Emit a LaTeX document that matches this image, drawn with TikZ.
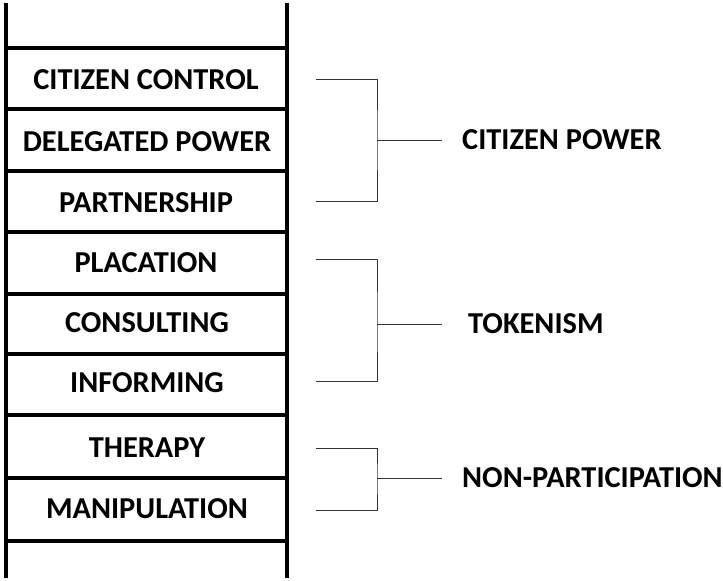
\documentclass[tikz,border=0pt]{standalone}
\usepackage{fontspec}
\setmainfont{Carlito}
\usetikzlibrary{positioning}

\begin{document}
\begin{tikzpicture}[x=1pt,y=-1pt,
  rail/.style={line width=4pt},
  brace/.style={line width=1pt,black!80},
  steptext/.style={font=\fontsize{30.4}{34}\selectfont\bfseries},
  grouptext/.style={steptext,anchor=west,inner xsep=20pt}]
  \useasboundingbox (0,0) rectangle (723,581);
  % ladder
  \draw[rail] (6,3) -- (6,578);
  \draw[rail] (287,3) -- (287,578);
  \foreach \y in {48,109,171,232,294,354,415,478,541}
    \draw[rail] (6,\y) -- (287,\y);
  % rungs, top to bottom
  \node[steptext] (control)  at (146,80)  {CITIZEN CONTROL};
  \node[steptext] (delegate) at (147,142) {DELEGATED POWER};
  \node[steptext] (partner)  at (146,203) {PARTNERSHIP};
  \node[steptext] (placate)  at (146,263) {PLACATION};
  \node[steptext] (consult)  at (147,323) {CONSULTING};
  \node[steptext] (inform)   at (147,383) {INFORMING};
  \node[steptext] (therapy)  at (147,448) {THERAPY};
  \node[steptext] (manip)    at (147,509) {MANIPULATION};
  % groups
  \node[grouptext] (power)   at (442,140) {CITIZEN POWER};
  \node[grouptext,inner xsep=26pt] (token) at (442,324) {TOKENISM};
  \node[grouptext] (nonpart) at (442,478) {NON-PARTICIPATION};
  \coordinate (powerTop) at (316,79);
  \coordinate (powerBot) at (316,201);
  \coordinate (powerMid) at (377,140);
  \coordinate (tokenTop) at (316,259);
  \coordinate (tokenBot) at (316,381);
  \coordinate (tokenMid) at (377,324);
  \coordinate (nonTop)   at (316,448);
  \coordinate (nonBot)   at (316,510);
  \coordinate (nonMid)   at (377,478);
  \draw[brace] (powerTop) -| (powerMid) |- (powerBot);
  \draw[brace] (powerMid) -- (power.west);
  \draw[brace] (tokenTop) -| (tokenMid) |- (tokenBot);
  \draw[brace] (tokenMid) -- (token.west);
  \draw[brace] (nonTop) -| (nonMid) |- (nonBot);
  \draw[brace] (nonMid) -- (nonpart.west);
\end{tikzpicture}
\end{document}
